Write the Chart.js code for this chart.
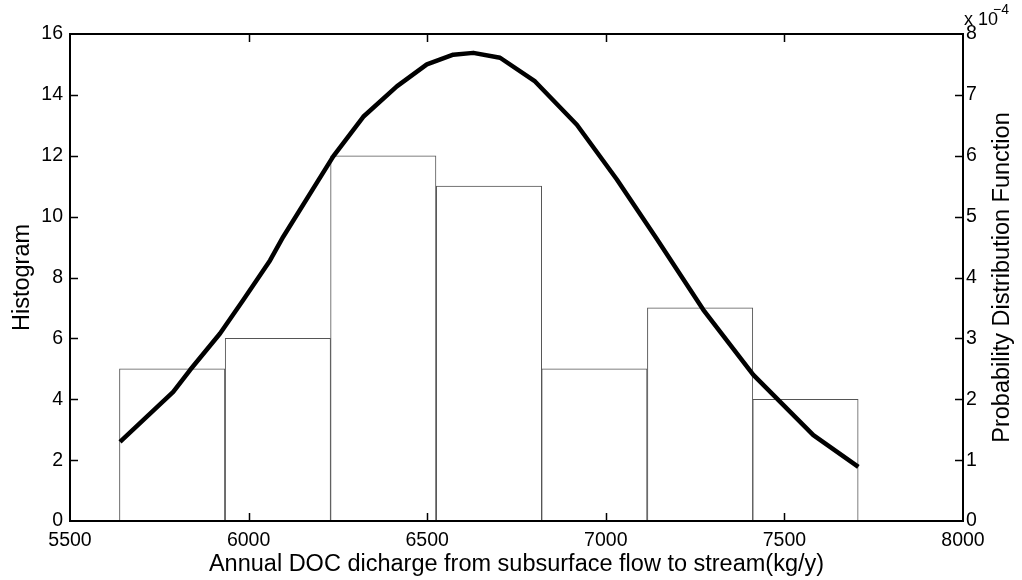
<!DOCTYPE html>
<html>
<head>
<meta charset="utf-8">
<script src="https://cdn.jsdelivr.net/npm/chart.js@4.4.1/dist/chart.umd.min.js"></script>
<style>
html,body{margin:0;padding:0;background:#fff;}
#wrap{width:1022px;height:580px;position:relative;}
</style>
</head>
<body>
<div id="wrap"><canvas id="c" width="1022" height="580"></canvas></div>
<script>
// ---- data ----
const binCenters = [5786, 6082, 6377, 6673, 6968, 7264, 7559];
const binCounts  = [5, 6, 12, 11, 5, 7, 4];

const pdfX = [5640, 5789, 5836, 5920, 5985, 6060, 6097, 6237, 6321, 6415, 6499, 6573, 6629, 6704, 6802, 6919, 7031, 7142, 7273, 7413, 7581, 7707];
const pdfY = [1.30e-4, 2.12e-4, 2.48e-4, 3.08e-4, 3.63e-4, 4.28e-4, 4.67e-4, 5.99e-4, 6.64e-4, 7.14e-4, 7.50e-4, 7.66e-4, 7.69e-4, 7.61e-4, 7.22e-4, 6.51e-4, 5.61e-4, 4.64e-4, 3.47e-4, 2.40e-4, 1.41e-4, 0.89e-4];

const xTicks  = [5500, 6000, 6500, 7000, 7500, 8000];
const yTicks  = [0, 2, 4, 6, 8, 10, 12, 14, 16];
const y2Ticks = [0, 1, 2, 3, 4, 5, 6, 7, 8]; // x 10^-4

const xTitle  = 'Annual DOC dicharge from subsurface flow to stream(kg/y)';
const yTitle  = 'Histogram';
const y2Title = 'Probability Distribution Function';

const FONT = '"Liberation Sans", Arial, Helvetica, sans-serif';
const TICK_SIZE = 19.5;

const barData  = binCenters.map((x, i) => ({x: x, y: binCounts[i]}));
const lineData = pdfX.map((x, i) => ({x: x, y: pdfY[i]}));

const framePlugin = {
  id: 'frame',
  afterDraw(chart) {
    const ctx = chart.ctx;
    const a = chart.chartArea;
    const sx = chart.scales.x, sy = chart.scales.y, sy2 = chart.scales.y2;
    ctx.save();
    ctx.strokeStyle = '#000';
    ctx.lineWidth = 2;
    ctx.strokeRect(a.left, a.top, a.right - a.left, a.bottom - a.top);
    ctx.lineWidth = 1.5;
    const TL = 8;
    ctx.beginPath();
    xTicks.forEach(v => {
      if (v === xTicks[0] || v === xTicks[xTicks.length - 1]) return;
      const px = Math.round(sx.getPixelForValue(v)) + 0.5;
      ctx.moveTo(px, a.bottom); ctx.lineTo(px, a.bottom - TL);
      ctx.moveTo(px, a.top); ctx.lineTo(px, a.top + TL);
    });
    yTicks.forEach(v => {
      if (v === yTicks[0] || v === yTicks[yTicks.length - 1]) return;
      const py = Math.round(sy.getPixelForValue(v)) + 0.5;
      ctx.moveTo(a.left, py); ctx.lineTo(a.left + TL, py);
    });
    y2Ticks.forEach(v => {
      if (v === y2Ticks[0] || v === y2Ticks[y2Ticks.length - 1]) return;
      const py = Math.round(sy2.getPixelForValue(v * 1e-4)) + 0.5;
      ctx.moveTo(a.right, py); ctx.lineTo(a.right - TL, py);
    });
    ctx.stroke();

    // axis titles
    ctx.fillStyle = '#000';
    ctx.font = '23.5px ' + FONT;
    ctx.textAlign = 'center';
    ctx.textBaseline = 'alphabetic';
    ctx.fillText(xTitle, (a.left + a.right) / 2, 571);

    const midY = (a.top + a.bottom) / 2;
    ctx.save();
    ctx.translate(29, midY);
    ctx.rotate(-Math.PI / 2);
    ctx.fillText(yTitle, 0, 0);
    ctx.restore();

    ctx.save();
    ctx.translate(1009, midY);
    ctx.rotate(-Math.PI / 2);
    ctx.fillText(y2Title, 0, 0);
    ctx.restore();

    // exponent label
    ctx.textAlign = 'left';
    ctx.font = '18px ' + FONT;
    ctx.fillText('x 10', 964, 25);
    ctx.font = '14px ' + FONT;
    ctx.fillText('\u22124', 993, 14);
    ctx.restore();
  }
};

new Chart(document.getElementById('c'), {
  type: 'bar',
  data: {
    datasets: [
      {
        type: 'line',
        data: lineData,
        yAxisID: 'y2',
        borderColor: '#000',
        borderWidth: 4.5,
        pointRadius: 0,
        tension: 0,
        fill: false,
        order: 0,
        borderCapStyle: 'butt',
        borderJoinStyle: 'round'
      },
      {
        type: 'bar',
        data: barData,
        yAxisID: 'y',
        backgroundColor: '#ffffff',
        borderColor: '#555555',
        borderWidth: 1,
        borderSkipped: 'bottom',
        barPercentage: 1.0,
        categoryPercentage: 1.0,
        order: 1
      }
    ]
  },
  options: {
    responsive: false,
    animation: false,
    devicePixelRatio: 1,
    layout: {padding: {top: 34, left: 0, right: 0, bottom: 0}},
    plugins: {legend: {display: false}, tooltip: {enabled: false}},
    scales: {
      x: {
        type: 'linear',
        min: 5500, max: 8000,
        offset: false,
        grid: {display: false, drawTicks: false},
        border: {display: false},
        afterFit: s => { s.height = 59; },
        afterBuildTicks: s => { s.ticks = xTicks.map(v => ({value: v})); },
        ticks: {color: '#000', font: {family: FONT, size: TICK_SIZE}, padding: 8, maxRotation: 0,
                callback: v => String(v)}
      },
      y: {
        position: 'left',
        min: 0, max: 16,
        grid: {display: false, drawTicks: false},
        border: {display: false},
        afterFit: s => { s.width = 70; },
        afterBuildTicks: s => { s.ticks = yTicks.map(v => ({value: v})); },
        ticks: {color: '#000', font: {family: FONT, size: TICK_SIZE}, padding: 7, callback: v => String(v)}
      },
      y2: {
        position: 'right',
        min: 0, max: 8e-4,
        grid: {display: false, drawTicks: false},
        border: {display: false},
        afterFit: s => { s.width = 59; },
        afterBuildTicks: s => { s.ticks = y2Ticks.map(v => ({value: v * 1e-4})); },
        ticks: {color: '#000', font: {family: FONT, size: TICK_SIZE}, padding: 3,
                callback: v => String(Math.round(v * 1e4))}
      }
    }
  },
  plugins: [framePlugin]
});
</script>
</body>
</html>
